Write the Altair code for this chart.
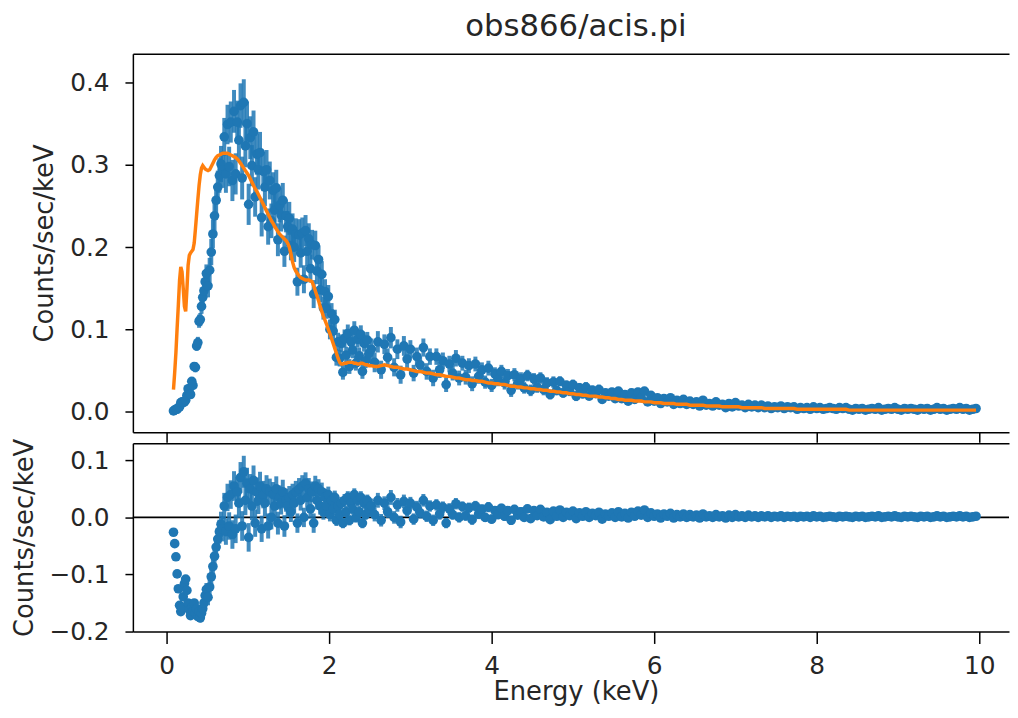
import altair as alt
import pandas as pd

# ---- Energy grid (keV): three channel groups given as (first energy, step) ----
SEG_A = (0.085, 0.015)
SEG_B = (0.51, 0.02)
SEG_C = (2.52, 0.04)

# ---- values in units of 1e-3 counts/sec/keV ----
MODEL_A = [27, 48, 72, 102, 130, 160, 176, 170, 150, 128,
           122, 148, 178, 190, 193, 195, 197, 205, 222, 240,
           258, 275, 288, 296, 299, 297, 295, 294]
RESID_A = [-26, -46, -69, -99, -125, -154, -165, -158, -139, -116,
           -108, -128, -150, -162, -172, -158, -165, -150, -168, -160,
           -174, -165, -176, -168, -160, -150, -137, -126]
ERR_A = [1, 1, 1, 1, 1, 2, 2, 2, 2, 2,
         3, 3, 3, 3, 4, 4, 4, 5, 6, 6,
         7, 8, 8, 9, 10, 10, 11, 11]

MODEL_B = [293, 294, 298, 302, 306, 309, 311, 312, 313, 314,
           314, 314, 314, 313, 312, 311, 310, 309, 307, 305,
           302, 299, 296, 293, 290, 287, 283, 279, 275, 271,
           268, 264, 260, 256, 252, 248, 244, 240, 236, 232,
           229, 225, 222, 219, 216, 214, 212, 210, 208, 205,
           200, 192, 182, 175, 171, 168, 165, 163, 162, 161,
           160, 160, 160, 159, 158, 153, 147, 141, 135, 128,
           122, 116, 111, 106, 100, 95, 89, 83, 77, 71,
           65, 60, 58, 58, 59, 59, 60, 60, 60, 60,
           59, 59, 58, 58, 59, 59, 58, 57, 57, 56]
RESID_B = [-140, -122, -104, -86, -68, -52, -38, -25, -12, -20,
           20, -25, 35, -15, 40, -30, 55, -20, 45, 25,
           70, -15, 80, 30, 60, -35, 50, 20, 65, -10,
           45, 30, 55, -20, 40, 25, 50, -15, 45, 0,
           40, 20, 50, -10, 35, 25, 45, -15, 30, 20,
           35, 10, 40, 25, 45, -10, 50, 30, 55, 0,
           60, 35, 50, 15, 45, -10, 55, 30, 50, 20,
           45, 10, 35, 20, 40, 5, 30, 15, 35, -5,
           20, 5, 25, -10, 30, 10, 35, -5, 25, 15,
           40, 0, 30, 10, 35, -10, 25, 5, 30, 15]
ERR_B = [14, 15, 16, 17, 18, 19, 20, 21, 22, 22,
         23, 23, 24, 24, 25, 25, 26, 25, 26, 26,
         27, 26, 28, 26, 27, 25, 26, 25, 26, 24,
         25, 24, 25, 23, 24, 23, 24, 22, 23, 21,
         22, 21, 22, 20, 21, 20, 21, 19, 20, 19,
         20, 18, 19, 18, 19, 17, 19, 18, 19, 17,
         19, 18, 19, 17, 18, 17, 18, 16, 17, 15,
         16, 14, 15, 13, 14, 12, 13, 12, 12, 10,
         11, 10, 11, 9, 11, 10, 11, 9, 10, 10,
         11, 9, 10, 10, 11, 9, 10, 9, 10, 10]

MODEL_C = [56, 55, 55, 56, 57, 56, 55, 54, 54, 53,
           52, 52, 51, 50, 49, 49, 48, 47, 47, 46,
           45, 45, 44, 43, 43, 42, 41, 41, 40, 39,
           39, 38, 38, 37, 37, 36, 35, 35, 34, 34,
           33, 33, 32, 31, 31, 30, 30, 29, 29, 28,
           28, 27, 27, 26, 26, 25, 25, 24, 24, 23,
           23, 22, 22, 21, 21, 20, 20, 19, 19, 19,
           18, 18, 17, 17, 16, 16, 15, 15, 14, 14,
           14, 13, 13, 13, 12, 12, 12, 11, 11, 11,
           10, 10, 10, 10, 9, 9, 9, 9, 8, 8,
           8, 8, 8, 7, 7, 7, 7, 7, 6, 6,
           6, 6, 6, 6, 5, 5, 5, 5, 5, 5,
           5, 4, 4, 4, 4, 4, 4, 4, 4, 4,
           4, 3, 3, 3, 3, 3, 3, 3, 3, 3,
           3, 3, 3, 3, 3, 3, 3, 2, 2, 2,
           2, 2, 2, 2, 2, 2, 2, 2, 2, 2,
           2, 2, 2, 2, 2, 2, 2, 2, 2, 2,
           2, 2, 2, 2, 2, 2, 2, 2, 2, 2,
           2, 2, 2, 2, 2, 2, 2]
RESID_C = [20, 5, 30, -5, 25, 10, 35, 0, 22, -8,
           28, 12, 25, -3, 18, 8, 30, 2, 20, -5,
           22, 6, 18, -10, 15, 5, 24, 0, 19, 3,
           17, -4, 20, 6, 14, 0, 18, -3, 12, 5,
           16, 2, 12, -5, 14, 4, 10, 0, 15, -2,
           12, 3, 14, 1, 9, -4, 11, 2, 13, 0,
           9, 3, 11, -2, 8, 2, 10, 0, 7, 3,
           9, -3, 6, 2, 8, 0, 10, 1, 7, -1,
           9, 2, 11, 4, 13, 0, 8, 2, 6, -1,
           6, 2, 7, -1, 5, 1, 6, 0, 5, 1,
           4, -1, 6, 1, 3, 0, 5, 1, 3, -1,
           4, 0, 5, 1, 3, 0, 4, 1, 3, 0,
           3, 1, 3, 0, 2, 1, 3, 0, 2, 1,
           2, 0, 2, 1, 2, 0, 3, 1, 2, 0,
           1, 2, 1, 0, 2, 1, 2, 1, 0, 2,
           1, 2, 0, 1, 2, 1, 3, 0, 1, 2,
           1, 3, 1, 0, 2, 1, 2, 1, 0, 2,
           1, 2, 0, 1, 3, 1, 2, 0, 1, 2,
           1, 3, 1, 2, 0, 1, 2]
ERR_C = [13, 12, 13, 11, 12, 11, 13, 11, 12, 11,
         12, 11, 11, 10, 11, 10, 11, 10, 10, 10,
         10, 10, 10, 9, 10, 9, 10, 9, 9, 9,
         9, 9, 9, 9, 9, 8, 9, 8, 8, 8,
         8, 8, 8, 8, 8, 7, 8, 7, 7, 7,
         7, 7, 7, 7, 7, 6, 7, 6, 6, 6,
         6, 6, 6, 6, 6, 6, 6, 5, 6, 5,
         6, 5, 5, 5, 5, 5, 5, 5, 5, 5,
         5, 5, 5, 5, 5, 4, 5, 4, 4, 4,
         4, 4, 4, 4, 4, 4, 4, 4, 4, 3,
         4, 3, 4, 3, 3, 3, 3, 3, 3, 3,
         3, 3, 3, 3, 3, 3, 3, 3, 3, 3,
         3, 3, 3, 2, 3, 2, 3, 2, 2, 2,
         2, 2, 2, 2, 2, 2, 2, 2, 2, 2,
         2, 2, 2, 2, 2, 2, 2, 2, 2, 2,
         2, 2, 2, 2, 2, 2, 2, 2, 2, 2,
         2, 2, 2, 2, 2, 2, 2, 2, 2, 2,
         2, 2, 2, 2, 2, 2, 2, 2, 2, 2,
         2, 2, 2, 2, 2, 2, 2]

X_TICKS = [0, 2, 4, 6, 8, 10]
Y_TICKS_TOP = [0.0, 0.1, 0.2, 0.3, 0.4]
Y_TICKS_RES = [-0.2, -0.1, 0.0, 0.1]

TITLE = "obs866/acis.pi"
X_TITLE = "Energy (keV)"
Y_TITLE = "Counts/sec/keV"

BLUE = "#1f77b4"
ORANGE = "#ff7f0e"
TXT = "#262626"
FONT = "DejaVu Sans"

rows = []
for (start, step), mod, res, err in [(SEG_A, MODEL_A, RESID_A, ERR_A),
                                     (SEG_B, MODEL_B, RESID_B, ERR_B),
                                     (SEG_C, MODEL_C, RESID_C, ERR_C)]:
    n = min(len(mod), len(res), len(err))
    for i in range(n):
        m = mod[i] / 1000.0
        r = res[i] / 1000.0
        e = err[i] / 1000.0
        d = m + r
        rows.append({
            "energy": round(start + step * i, 4),
            "model": m, "data": d, "resid": r,
            "ylo": d - e, "yhi": d + e,
            "rlo": r - e, "rhi": r + e,
        })
df = pd.DataFrame(rows)
zero_df = pd.DataFrame({"zero": [0.0]})

W = 884
xscale = alt.Scale(domain=[-0.4146, 10.366], nice=False, zero=False)
yscale_top = alt.Scale(domain=[-0.025, 0.435], nice=False, zero=False)
yscale_res = alt.Scale(domain=[-0.2, 0.13], nice=False, zero=False)

x_ticks_only = alt.Axis(orient="bottom", values=X_TICKS, labels=False, tickSize=10,
                        title=None, grid=False)
x_frame_top = alt.Axis(orient="top", labels=False, ticks=False, title=None, grid=False)
x_bottom = alt.Axis(orient="bottom", values=X_TICKS, format="d", tickSize=12,
                    labelPadding=10, title=X_TITLE, titlePadding=1, titleX=447,
                    grid=False)

y_top_axis = alt.Axis(orient="left", values=Y_TICKS_TOP, format=".1f", title=Y_TITLE,
                      tickSize=8, labelPadding=16, titlePadding=12, grid=False)
y_res_axis = alt.Axis(orient="left", values=Y_TICKS_RES, format=".1f", title=Y_TITLE,
                      tickSize=8, labelPadding=16, titlePadding=12, grid=False)

base = alt.Chart(df)

top_err = base.mark_rule(color=BLUE, strokeWidth=4, opacity=0.85).encode(
    x=alt.X("energy:Q", scale=xscale, axis=x_ticks_only),
    y=alt.Y("ylo:Q", scale=yscale_top, axis=y_top_axis),
    y2="yhi:Q",
)
top_pts = base.mark_circle(color=BLUE, size=95, opacity=1).encode(
    x=alt.X("energy:Q", scale=xscale, axis=None),
    y=alt.Y("data:Q", scale=yscale_top, axis=y_top_axis),
)
top_model = base.mark_line(color=ORANGE, strokeWidth=3.5).encode(
    x=alt.X("energy:Q", scale=xscale, axis=x_frame_top),
    y=alt.Y("model:Q", scale=yscale_top, axis=y_top_axis),
)
top = alt.layer(top_err, top_pts, top_model).resolve_axis(x="independent").properties(
    width=W, height=382,
    title=alt.TitleParams(TITLE, fontSize=31, font=FONT, fontWeight="normal",
                          anchor="middle", color=TXT, offset=11, dx=5),
)

res_zero = alt.Chart(zero_df).mark_rule(color="black", strokeWidth=1.8).encode(
    y=alt.Y("zero:Q", scale=yscale_res, axis=y_res_axis),
)
res_err = base.mark_rule(color=BLUE, strokeWidth=4, opacity=0.85).encode(
    x=alt.X("energy:Q", scale=xscale, axis=x_bottom),
    y=alt.Y("rlo:Q", scale=yscale_res, axis=y_res_axis),
    y2="rhi:Q",
)
res_pts = base.mark_circle(color=BLUE, size=95, opacity=1).encode(
    x=alt.X("energy:Q", scale=xscale, axis=x_frame_top),
    y=alt.Y("resid:Q", scale=yscale_res, axis=y_res_axis),
)
bottom = alt.layer(res_zero, res_err, res_pts).resolve_axis(x="independent").properties(
    width=W, height=190,
)

chart = alt.vconcat(top, bottom, spacing=11, bounds="flush").properties(
    padding={"left": 3, "top": 0, "right": 0, "bottom": 0},
).configure_view(stroke=None).configure_axis(
    labelFont=FONT, labelFontSize=25, labelColor=TXT,
    titleFont=FONT, titleFontSize=26, titleFontWeight="normal", titleColor=TXT,
    domainColor="black", tickColor="black", domainWidth=1.5, tickWidth=1.5,
)

chart.save("out.html", embed_options={"renderer": "svg", "actions": False})
